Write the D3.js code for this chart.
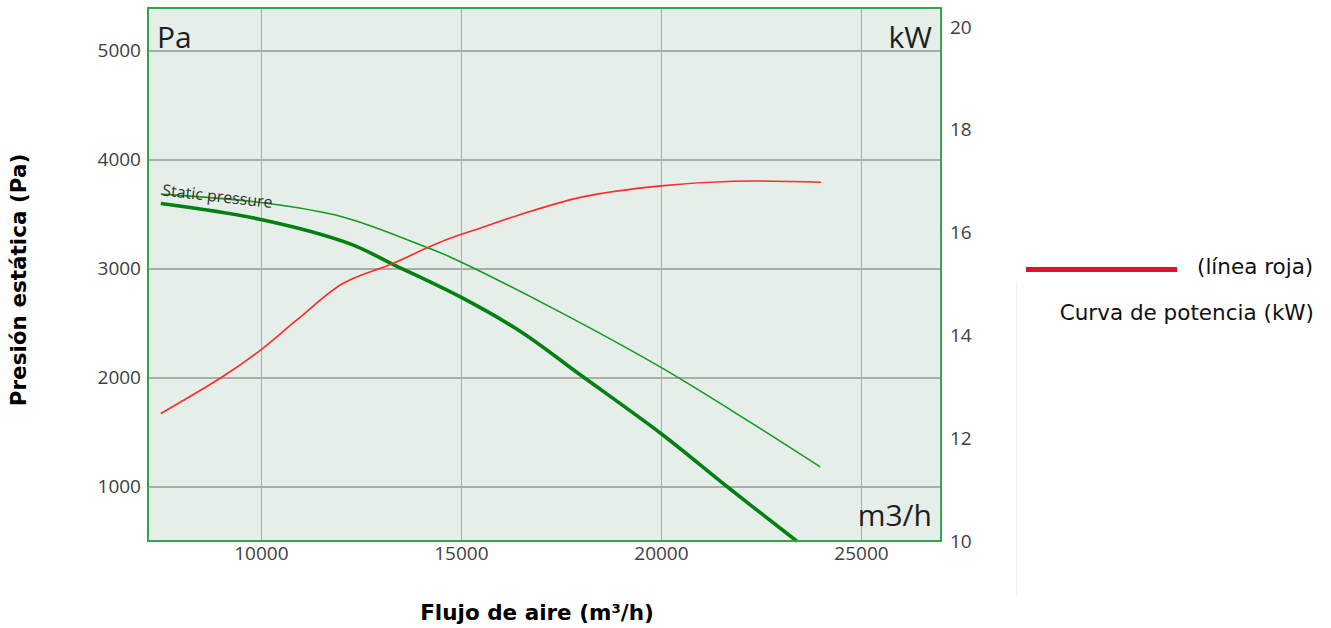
<!DOCTYPE html>
<meta charset="utf-8">
<style>
body { margin: 0; background: #fff; }
.grid line { stroke: #a9adab; stroke-width: 1.5; shape-rendering: crispEdges; }
.grid path { stroke-width: 0; }
.tick text { font-family: "Open Sans", sans-serif; font-size: 19px; fill: #404040; }
.axis path, .axis line { display: none; }
</style>
<body>
<script src="https://cdn.jsdelivr.net/npm/d3@7"></script>
<script>

// data
var pressFlow = [7500, 10000, 12200, 13300, 15000, 16500, 18000, 20000, 21650, 23400];
var pressPa   = [3596, 3450, 3230, 3039, 2737, 2420, 2020, 1486, 1000, 498];

var curve2Flow = [7500, 10000, 12050, 14150, 14730, 17230, 19980, 22230, 23980];
var curve2Pa   = [3682, 3605, 3473, 3193, 3106, 2648, 2097, 1590, 1180];

var powerFlow = [7500, 9050, 10000, 10900, 12050, 13300, 14230, 14730, 15570, 16400, 18070, 20000, 21800, 24000];
var powerKW   = [12.48, 13.2, 13.72, 14.3, 15.01, 15.4, 15.73, 15.89, 16.11, 16.33, 16.7, 16.91, 17.0, 16.98];

var xTicks  = [10000, 15000, 20000, 25000];
var yTicks  = [1000, 2000, 3000, 4000, 5000];
var y2Ticks = [10, 12, 14, 16, 18, 20];

var margin = {top: 8, left: 148},
    width = 941 - 148,
    height = 541 - 8;

var svg = d3.select("body").append("svg")
    .attr("width", 1331)
    .attr("height", 628);

var g = svg.append("g")
    .attr("transform", "translate(" + margin.left + "," + margin.top + ")");

var x = d3.scaleLinear().domain([7180, 27000]).range([0, width]);
var y = d3.scaleLinear().domain([500, 5390]).range([height, 0]);
var y2 = d3.scaleLinear().domain([10, 20.37]).range([height, 0]);

// background
g.append("rect")
    .attr("width", width)
    .attr("height", height)
    .attr("fill", "#e5eee9");

// grid lines
g.append("g")
    .attr("class", "grid")
    .attr("transform", "translate(0," + height + ")")
    .call(d3.axisBottom(x).tickValues(xTicks).tickSize(-height).tickFormat(""));

g.append("g")
    .attr("class", "grid")
    .call(d3.axisLeft(y).tickValues(yTicks).tickSize(-width).tickFormat(""));

// curves
var lineP = d3.line()
    .x(function(d) { return x(d[0]); })
    .y(function(d) { return y(d[1]); })
    .curve(d3.curveCatmullRom);

var lineK = d3.line()
    .x(function(d) { return x(d[0]); })
    .y(function(d) { return y2(d[1]); })
    .curve(d3.curveCatmullRom);

g.append("path")
    .datum(d3.zip(curve2Flow, curve2Pa))
    .attr("fill", "none")
    .attr("stroke", "#139a1f")
    .attr("stroke-width", 1.6)
    .attr("d", lineP);

g.append("path")
    .datum(d3.zip(pressFlow, pressPa))
    .attr("fill", "none")
    .attr("stroke", "#038010")
    .attr("stroke-width", 3.6)
    .attr("d", lineP);

g.append("path")
    .datum(d3.zip(powerFlow, powerKW))
    .attr("fill", "none")
    .attr("stroke", "#ff2a2a")
    .attr("stroke-width", 1.6)
    .attr("d", lineK);

// frame
g.append("rect")
    .attr("width", width)
    .attr("height", height)
    .attr("fill", "none")
    .attr("stroke", "#2fa84a")
    .attr("stroke-width", 2);

// curve label
g.append("text")
    .attr("transform", "translate(" + (x(7500) + 1) + "," + (y(3596) - 8) + ") rotate(6.5)")
    .attr("font-family", "Open Sans, sans-serif")
    .attr("font-size", 16)
    .attr("fill", "#333")
    .text("Static pressure");

// unit labels inside the frame
g.append("text")
    .attr("x", 9).attr("y", 40)
    .attr("font-family", "Open Sans, sans-serif")
    .attr("font-size", 30).attr("fill", "#1e1e1e")
    .text("Pa");

g.append("text")
    .attr("x", width - 9).attr("y", 40)
    .attr("text-anchor", "end")
    .attr("font-family", "Open Sans, sans-serif")
    .attr("font-size", 30).attr("fill", "#1e1e1e")
    .text("kW");

g.append("text")
    .attr("x", width - 9).attr("y", height - 15)
    .attr("text-anchor", "end")
    .attr("font-family", "Open Sans, sans-serif")
    .attr("font-size", 30).attr("fill", "#1e1e1e")
    .text("m3/h");

// axes
g.append("g")
    .attr("class", "axis")
    .attr("transform", "translate(0," + height + ")")
    .call(d3.axisBottom(x).tickValues(xTicks).tickSize(0).tickPadding(5).tickFormat(d3.format("d")));

g.append("g")
    .attr("class", "axis")
    .call(d3.axisLeft(y).tickValues(yTicks).tickSize(0).tickPadding(7).tickFormat(d3.format("d")));

g.append("g")
    .attr("class", "axis")
    .attr("transform", "translate(" + width + ",0)")
    .call(d3.axisRight(y2).tickValues(y2Ticks).tickSize(0).tickPadding(9));

// axis titles
svg.append("text")
    .attr("transform", "translate(26,280) rotate(-90)")
    .attr("text-anchor", "middle")
    .attr("font-family", "DejaVu Sans, sans-serif")
    .attr("font-weight", "bold")
    .attr("font-size", 21.5)
    .attr("fill", "#000")
    .text("Presión estática (Pa)");

svg.append("text")
    .attr("x", 537).attr("y", 620)
    .attr("text-anchor", "middle")
    .attr("font-family", "DejaVu Sans, sans-serif")
    .attr("font-weight", "bold")
    .attr("font-size", 21.5)
    .attr("fill", "#000")
    .text("Flujo de aire (m³/h)");

// legend
svg.append("line")
    .attr("x1", 1026).attr("x2", 1177)
    .attr("y1", 269.5).attr("y2", 269.5)
    .attr("stroke", "#e0102f")
    .attr("stroke-width", 5);

svg.append("text")
    .attr("x", 1197).attr("y", 274)
    .attr("font-family", "DejaVu Sans, sans-serif")
    .attr("font-size", 21.5)
    .attr("fill", "#111")
    .text("(línea roja)");

svg.append("text")
    .attr("x", 1314).attr("y", 320)
    .attr("text-anchor", "end")
    .attr("font-family", "DejaVu Sans, sans-serif")
    .attr("font-size", 21.5)
    .attr("fill", "#111")
    .text("Curva de potencia (kW)");

svg.append("line")
    .attr("x1", 1016.5).attr("x2", 1016.5)
    .attr("y1", 282).attr("y2", 595)
    .attr("stroke", "#f0f0f0")
    .attr("stroke-width", 1);

</script>
</body>
